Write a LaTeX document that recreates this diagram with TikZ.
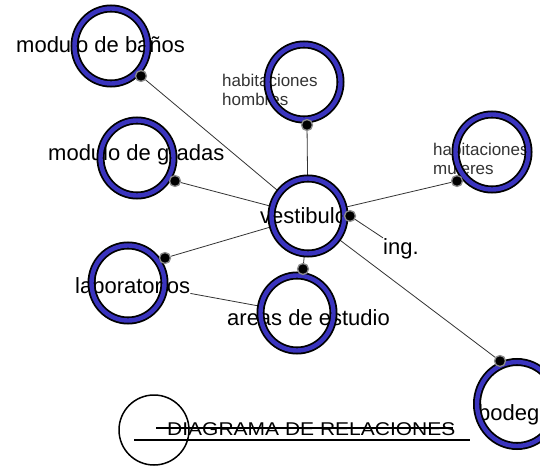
\documentclass[tikz,border=0pt]{standalone}
\usepackage{fontspec}
\setmainfont{Liberation Sans}
\usetikzlibrary{shapes.geometric}
\pgfdeclarelayer{paper}
\pgfdeclarelayer{wires}
\pgfsetlayers{paper,wires,main}
\definecolor{ringblue}{RGB}{58,52,190}

\begin{document}
\begin{tikzpicture}[x=1pt, y=-1pt,
    ring/.style={ellipse, draw=black, line width=1.8pt, double=ringblue, double distance=4.4pt, minimum width=73pt, minimum height=75pt, inner sep=0pt},
    joint/.style={circle, fill=black, draw=black!45, line width=1.3pt, minimum size=11pt, inner sep=0pt},
    bigtxt/.style={anchor=base west, inner sep=0pt, font=\fontsize{22}{24}\selectfont},
    smalltxt/.style={anchor=base west, inner sep=0pt, text=black!80, font=\fontsize{17}{19}\selectfont},
    wire/.style={line width=0.8pt, black!80}]

    % Sheet
    \begin{pgfonlayer}{paper}
        \fill[white] (0,0) rectangle (540,468);
    \end{pgfonlayer}
    \useasboundingbox (0,0) rectangle (540,468);

    % Labels
    \node[bigtxt] (lbanos) at (16,53) {modulo de baños};
    \node[bigtxt] (lgradas) at (48,160) {modulo de gradas};
    \node[smalltxt] (lhh1) at (222,87) {habitaciones};
    \node[smalltxt] (lhh2) at (222,106) {hombres};
    \node[smalltxt] (lhm1) at (433,155) {habitaciones};
    \node[smalltxt] (lhm2) at (433,174) {mujeres};
    \node[bigtxt] (lvest) at (260,223) {vestibulo};
    \node[bigtxt] (ling) at (383,254) {ing.};
    \node[bigtxt] (llabs) at (75,293) {laboratorios};
    \node[bigtxt] (lareas) at (227,325) {areas de estudio};
    \node[bigtxt] (lbod) at (478,420) {bodega};

    % Rings
    \node[ring] (banos) at (111,46) {};
    \node[ring] (gradas) at (137,158) {};
    \node[ring] (hh) at (304,82) {};
    \node[ring] (hm) at (492,152) {};
    \node[ring] (vest) at (308,216) {};
    \node[ring] (labs) at (128,283) {};
    \node[ring] (areas) at (297,313) {};
    \node[ring, minimum width=80pt, minimum height=84pt] (bod) at (517,404) {};

    % Joints
    \node[joint] (dbanos) at (141,76) {};
    \node[joint] (dgradas) at (175,181) {};
    \node[joint] (dhh) at (307,125) {};
    \node[joint] (dhm) at (457,181) {};
    \node[joint] (dvest) at (350,216) {};
    \node[joint] (dlabs) at (165,258) {};
    \node[joint] (dareas) at (303,269) {};
    \node[joint] (dbod) at (500,361) {};

    % Relations
    \begin{pgfonlayer}{wires}
        \draw[wire] (dbanos) -- (vest);
        \draw[wire] (dgradas) -- (vest);
        \draw[wire] (dhh) -- (vest);
        \draw[wire] (dhm) -- (vest);
        \draw[wire] (dvest) -- (ling.north west);
        \draw[wire] (dlabs) -- (vest);
        \draw[wire] (llabs.south east) -- (areas);
        \draw[wire] (vest) -- (dbod);
        \draw[wire] (dareas) -- (vest);
    \end{pgfonlayer}

    % Title
    \node[draw, circle, line width=1.5pt, minimum size=70pt, inner sep=0pt] (stamp) at (154,430) {};
    \node[anchor=base west, inner sep=0pt, font=\fontsize{21}{23}\selectfont] (title) at (167,435) {\scalebox{1}[0.88]{DIAGRAMA DE RELACIONES}};
    \coordinate (strikeA) at (156,428);
    \coordinate (strikeB) at (453,428);
    \draw[line width=2.4pt] (strikeA) -- (strikeB);
    \coordinate (ulA) at (134,440);
    \coordinate (ulB) at (470,440);
    \draw[line width=2.6pt] (ulA) -- (ulB);
\end{tikzpicture}
\end{document}
